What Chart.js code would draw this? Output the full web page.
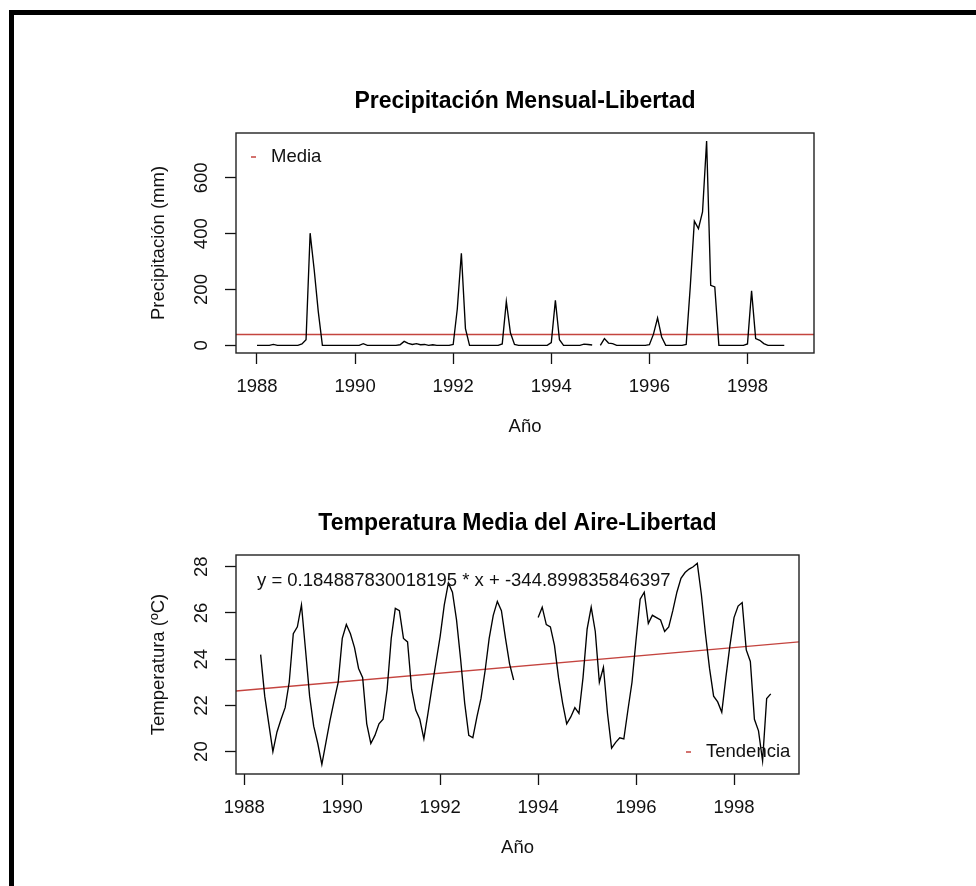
<!DOCTYPE html>
<html>
<head>
<meta charset="utf-8">
<script src="https://cdn.jsdelivr.net/npm/chart.js@4.4.1/dist/chart.umd.min.js"></script>
<style>
  html, body { margin: 0; padding: 0; background: #fff; }
  body { width: 976px; height: 886px; position: relative; overflow: hidden; }
  #frame { position: absolute; left: 9px; top: 10px; width: 1000px; height: 900px;
           border-top: 5px solid #000; border-left: 5px solid #000; }
  canvas { position: absolute; left: 0; }
  #precChart { top: 0; }
  #tempChart { top: 443px; }
</style>
</head>
<body>
<div id="frame"></div>
<canvas id="precChart" width="976" height="443"></canvas>
<canvas id="tempChart" width="976" height="443"></canvas>
<script>
// precipitacion mensual (mm), ene 1988 - oct 1998 (null = sin dato)
const precStart = 1988;
const precipitacion = [
  0, 0, 0, 0, 3, 0, 0, 0, 0, 0, 0, 5,            // 1988
  20, 402, 270, 120, 0, 0, 0, 0, 0, 0, 0, 0,     // 1989
  0, 0, 6, 0, 0, 0, 0, 0, 0, 0, 0, 2,            // 1990
  14, 7, 3, 6, 2, 3, 0, 2, 0, 0, 0, 0,           // 1991
  3, 130, 330, 60, 0, 0, 0, 0, 0, 0, 0, 0,       // 1992
  5, 157, 45, 3, 0, 0, 0, 0, 0, 0, 0, 0,         // 1993
  10, 161, 20, 0, 0, 0, 0, 0, 4, 3, 1, null,     // 1994
  0, 24, 8, 6, 0, 0, 0, 0, 0, 0, 0, 0,           // 1995
  2, 40, 98, 30, 0, 0, 0, 0, 0, 3, 210, 445,     // 1996
  418, 478, 732, 215, 209, 0, 0, 0, 0, 0, 0, 0,  // 1997
  5, 195, 24, 18, 6, 0, 0, 0, 0, 0               // 1998
];

// temperatura media del aire (C), may 1988 - oct 1998
const tempStart = 1988 + 4 / 12;
const temperatura = [
  24.2, 22.4, 21.2, 20.0, 20.85, 21.4, 21.9, 23.0,                                 // 1988
  25.1, 25.4, 26.35, 24.4, 22.4, 21.1, 20.35, 19.45, 20.4, 21.35, 22.2, 23.0,       // 1989
  24.9, 25.5, 25.1, 24.5, 23.6, 23.2, 21.2, 20.35, 20.7, 21.2, 21.4, 22.7,          // 1990
  24.9, 26.2, 26.1, 24.9, 24.75, 22.7, 21.8, 21.4, 20.55, 21.65, 22.8, 23.9,        // 1991
  25.0, 26.35, 27.3, 26.9, 25.7, 24.0, 22.1, 20.7, 20.6, 21.5, 22.3, 23.5,          // 1992
  24.9, 25.9, 26.5, 26.1, 24.9, 23.8, 23.1, null, null, null, null, null,           // 1993
  25.8, 26.25, 25.5, 25.4, 24.6, 23.2, 22.1, 21.2, 21.5, 21.9, 21.65, 23.2,         // 1994
  25.3, 26.25, 25.2, 23.0, 23.65, 21.65, 20.15, 20.4, 20.6, 20.55, 21.8, 23.0,      // 1995
  24.85, 26.6, 26.9, 25.55, 25.9, 25.8, 25.7, 25.2, 25.4, 26.1, 26.9, 27.5,         // 1996
  27.75, 27.9, 28.0, 28.15, 26.8, 25.1, 23.6, 22.4, 22.15, 21.7, 23.2, 24.6,        // 1997
  25.8, 26.3, 26.45, 24.4, 23.9, 21.4, 20.9, 19.6, 22.3, 22.5                       // 1998
];

const anios = [1988, 1990, 1992, 1994, 1996, 1998];
const precTicks = [0, 200, 400, 600];
const tempTicks = [20, 22, 24, 26, 28];

// recta de tendencia (texto del grafico)
const pendiente = 0.184887830018195;
const intercepto = -344.899835846397;

const FONT = 'Liberation Sans, Arial, Helvetica, sans-serif';
const FS = 18.5;
const RED = '#c4443f';

function toPoints(vals, start) {
  return vals.map((v, i) => ({ x: start + i / 12, y: v }));
}

const valid = precipitacion.filter(v => v !== null);
const mediaPrec = valid.reduce((a, b) => a + b, 0) / valid.length;

// caja del grafico + leyendas / texto
const boxAndNotes = {
  id: 'boxAndNotes',
  afterDraw(chart, args, opts) {
    const { ctx, chartArea: a } = chart;
    ctx.save();
    ctx.strokeStyle = '#222';
    ctx.lineWidth = 1.4;
    ctx.strokeRect(a.left, a.top, a.right - a.left, a.bottom - a.top);
    ctx.font = FS + 'px ' + FONT;
    ctx.textBaseline = 'middle';
    (opts.notes || []).forEach(n => {
      if (n.dash) {
        ctx.strokeStyle = n.dash;
        ctx.lineWidth = 1.5;
        ctx.beginPath();
        ctx.moveTo(n.x - 20, n.y);
        ctx.lineTo(n.x - 15, n.y);
        ctx.stroke();
      }
      ctx.fillStyle = '#111';
      ctx.fillText(n.text, n.x, n.y);
    });
    ctx.restore();
  }
};

function setTicks(vals) {
  return s => { s.ticks = vals.map(v => ({ value: v })); };
}

const gridOpts = {
  drawOnChartArea: false, drawTicks: true, tickLength: 11,
  tickWidth: 1.3, tickColor: '#111'
};

function scales(o) {
  return {
    x: {
      type: 'linear', min: o.xMin, max: o.xMax,
      afterBuildTicks: setTicks(anios),
      afterFit: s => { s.height = 85.1; },
      border: { display: false },
      grid: gridOpts,
      ticks: { color: '#111', font: { family: FONT, size: FS }, padding: 11.9,
               autoSkip: false, maxRotation: 0, callback: v => String(v) },
      title: { display: true, text: 'Año', color: '#111',
               font: { family: FONT, size: FS }, padding: 0 }
    },
    y: {
      type: 'linear', min: o.yMin, max: o.yMax,
      afterBuildTicks: setTicks(o.yTicks),
      afterFit: s => { s.width = 100; },
      border: { display: false },
      grid: gridOpts,
      ticks: { color: '#111', font: { family: FONT, size: FS }, padding: o.yPad,
               minRotation: 90, maxRotation: 90, crossAlign: 'center',
               autoSkip: false, callback: v => String(v) },
      title: { display: true, text: o.yTitle, color: '#111',
               font: { family: FONT, size: FS }, padding: { top: 11.9, bottom: 0 } }
    }
  };
}

// --- precipitacion ---
const xMinA = 1987.572, xMaxA = 1999.356;
new Chart(document.getElementById('precChart'), {
  type: 'line',
  data: {
    datasets: [
      { data: toPoints(precipitacion, precStart), borderColor: '#000', borderWidth: 1.35,
        pointRadius: 0, tension: 0, spanGaps: false },
      { data: [{ x: xMinA, y: mediaPrec }, { x: xMaxA, y: mediaPrec }],
        borderColor: RED, borderWidth: 1.4, pointRadius: 0 }
    ]
  },
  options: {
    responsive: false, animation: false, devicePixelRatio: 1,
    layout: { padding: { left: 136, right: 162, top: 0, bottom: 4.9 } },
    plugins: {
      legend: { display: false },
      tooltip: { enabled: false },
      title: { display: true, text: 'Precipitación Mensual-Libertad', color: '#000',
               font: { family: FONT, size: 23, weight: 'bold' },
               padding: { top: 88.2, bottom: 17.2 }, fullSize: false },
      boxAndNotes: { notes: [{ text: 'Media', x: 271, y: 157, dash: RED }] }
    },
    scales: scales({ xMin: xMinA, xMax: xMaxA, yMin: -27.6, yMax: 761,
                     yTicks: precTicks, yPad: 7.6, yTitle: 'Precipitación (mm)' })
  },
  plugins: [boxAndNotes]
});

// --- temperatura ---
const xMinB = 1987.83, xMaxB = 1999.327;
new Chart(document.getElementById('tempChart'), {
  type: 'line',
  data: {
    datasets: [
      { data: toPoints(temperatura, tempStart), borderColor: '#000', borderWidth: 1.35,
        pointRadius: 0, tension: 0, spanGaps: false },
      { data: [{ x: xMinB, y: pendiente * xMinB + intercepto },
               { x: xMaxB, y: pendiente * xMaxB + intercepto }],
        borderColor: RED, borderWidth: 1.4, pointRadius: 0 }
    ]
  },
  options: {
    responsive: false, animation: false, devicePixelRatio: 1,
    layout: { padding: { left: 136, right: 177, top: 0, bottom: 26.9 } },
    plugins: {
      legend: { display: false },
      tooltip: { enabled: false },
      title: { display: true, text: 'Temperatura Media del Aire-Libertad', color: '#000',
               font: { family: FONT, size: 23, weight: 'bold' },
               padding: { top: 67.2, bottom: 17.2 }, fullSize: false },
      boxAndNotes: { notes: [
        { text: 'y = ' + pendiente + ' * x + ' + intercepto, x: 257, y: 138 },
        { text: 'Tendencia', x: 706, y: 309, dash: RED }
      ] }
    },
    scales: scales({ xMin: xMinB, xMax: xMaxB, yMin: 19.03, yMax: 28.51,
                     yTicks: tempTicks, yPad: 12.7, yTitle: 'Temperatura (ºC)' })
  },
  plugins: [boxAndNotes]
});
</script>
</body>
</html>
